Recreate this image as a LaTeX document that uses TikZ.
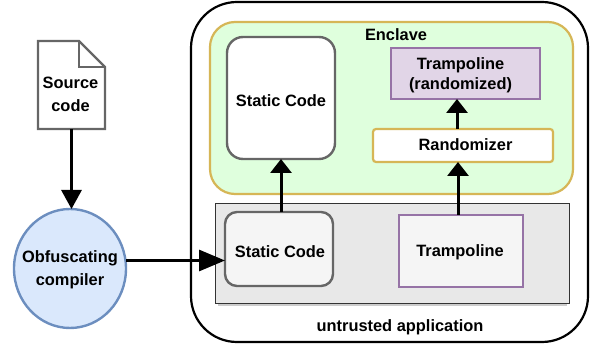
\documentclass[tikz,border=0pt]{standalone}
\usepackage{fontspec}
\setmainfont{Liberation Sans}
\usetikzlibrary{arrows.meta,calc,shapes.geometric}
\definecolor{gold}{HTML}{D6B656}
\definecolor{purp}{HTML}{9673A6}
\definecolor{purpfill}{HTML}{E1D5E7}
\definecolor{bluel}{HTML}{6C8EBF}
\definecolor{bluef}{HTML}{DAE8FC}
\definecolor{grayl}{HTML}{666666}
\definecolor{grayf}{HTML}{F5F5F5}
\definecolor{enc}{HTML}{DFFFDD}
\tikzset{
  base/.style={outer sep=0pt,inner sep=0pt,align=center,font=\fontsize{16.4}{23}\bfseries\selectfont},
  tight/.style={base,font=\fontsize{16.4}{20}\bfseries\selectfont},
  sized/.style 2 args={minimum width=#1pt,minimum height=#2pt},
  graybox/.style={base,draw=grayl,fill=grayf,line width=2.4pt},
  purpbox/.style={base,draw=purp,line width=2.4pt},
  conn/.style={line width=3pt,draw=black},
  tipa/.style={-{Triangle[width=21pt,length=14pt]}},
  tipb/.style={-{Triangle[width=21pt,length=26pt]}},
  tipc/.style={-{Triangle[width=20pt,length=19pt]}}
}
\begin{document}
\begin{tikzpicture}[x=1pt,y=-1pt]
\useasboundingbox (0,0) rectangle (594,347);
\node[base,draw=black,line width=2.2pt,fill=white,rounded corners=46pt,sized={397}{340}] (app) at (389.5,172) {};
\node[base,draw=gold,line width=2.2pt,fill=enc,rounded corners=25pt,sized={363}{172}] (enclave) at (391.5,108) {};
\fill[black!20] (218,206) rectangle (567,306);
\node[base,draw=black!80,line width=0.9pt,fill=black!9,sized={354}{100}] (ugray) at (392,253) {};
\node[graybox,fill=white,rounded corners=16pt,sized={108}{122},label={[base,yshift=-3pt]center:Static Code}] (st) at (281,98) {};
\node[purpbox,fill=purpfill,sized={149}{51},label={[tight,xshift=-5pt,yshift=-2pt]center:{Trampoline\\(randomized)}}] (tr) at (465.5,73.5) {};
\node[base,draw=gold,line width=2.2pt,fill=white,rounded corners=3pt,sized={180}{33},label={[base,xshift=2.5pt,yshift=0.5pt]center:Randomizer}] (rnd) at (463,145.5) {};
\node[graybox,rounded corners=12pt,sized={108}{74},label={[base,xshift=1pt,yshift=-3pt]center:Static Code}] (sb) at (279,249) {};
\node[purpbox,fill=grayf,sized={124}{72},label={[base,xshift=-1pt,yshift=-1pt]center:Trampoline}] (tb) at (461,251) {};
\node[ellipse,draw=bluel,line width=2.4pt,fill=bluef,outer sep=0pt,inner sep=0pt,sized={112}{119},label={[base,yshift=-1pt]center:{Obfuscating\\compiler}}] (obf) at (70,268.5) {};
\node[base,sized={67}{88},label={[base,xshift=-1pt,yshift=-9pt]center:{Source\\code\hspace{4pt}}}] (src) at (71.5,85) {};
\draw[grayl,line width=2.4pt,line join=miter] (src.north west) -- ++(41,0) coordinate (fa) -- (src.east |- 0,67) coordinate (fb) -- (src.south east) -- (src.south west) -- cycle;
\draw[grayl,line width=2.4pt] (fa) -- (fa |- fb) -- (fb);
\node[base] (enct) at (396,34.5) {Enclave};
\node[base] (ut) at (400,327) {untrusted application};
\draw[conn,tipc] (src.south) -- (obf.north -| src.south);
\draw[conn,tipb] ($(obf.east)+(0,-8)$) coordinate (cr) -- (cr -| sb.west);
\draw[conn,tipa] (sb.north -| st.south) -- (st.south);
\draw[conn,tipa] ($(rnd.north)+(-6,0)$) coordinate (r1) -- (r1 |- tr.south);
\draw[conn,tipa] ($(tb.north)+(-3,0)$) coordinate (b2) -- (b2 |- rnd.south);
\end{tikzpicture}
\end{document}
